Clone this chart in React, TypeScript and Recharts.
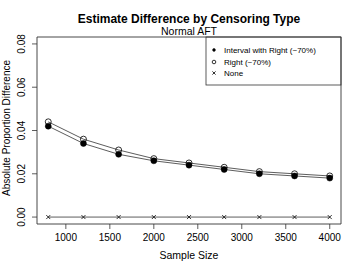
import { LineChart, Line, XAxis, YAxis, ReferenceArea, Customized } from "recharts";

const sampleSizes = [800, 1200, 1600, 2000, 2400, 2800, 3200, 3600, 4000];
const intervalRight = [0.042, 0.034, 0.029, 0.026, 0.024, 0.022, 0.020, 0.019, 0.018];
const rightOnly = [0.044, 0.036, 0.031, 0.027, 0.025, 0.023, 0.021, 0.020, 0.019];
const noneCens = [0, 0, 0, 0, 0, 0, 0, 0, 0];
const xTicks = [1000, 1500, 2000, 2500, 3000, 3500, 4000];
const yTicks = [0, 0.02, 0.04, 0.06, 0.08];
const legendLabels = ["Interval with Right (~70%)", "Right (~70%)", "None"];

const FONT = "'Liberation Sans', Arial, Helvetica, sans-serif";
const INK = "#000";
const LINE = "#333";

const data = sampleSizes.map((n, i) => ({
  n,
  interval: intervalRight[i],
  right: rightOnly[i],
  none: noneCens[i],
}));

const FilledDot = (p: any) => <circle cx={p.cx} cy={p.cy} r={p.r ?? 1.8} fill={INK} stroke={INK} strokeWidth={0.5} />;
const OpenDot = (p: any) => <circle cx={p.cx} cy={p.cy} r={p.r ?? 2.3} fill="none" stroke={INK} strokeWidth={0.8} />;
const CrossDot = (p: any) => {
  const s = p.s ?? 2;
  return (
    <g stroke={INK} strokeWidth={0.8}>
      <line x1={p.cx - s} y1={p.cy - s} x2={p.cx + s} y2={p.cy + s} />
      <line x1={p.cx - s} y1={p.cy + s} x2={p.cx + s} y2={p.cy - s} />
    </g>
  );
};

const YTick = (p: any) => (
  <text x={p.x - 5} y={p.y} transform={`rotate(-90 ${p.x - 5} ${p.y})`} textAnchor="middle" fontSize={10} fontFamily={FONT} fill={INK}>
    {p.payload.value.toFixed(2)}
  </text>
);

const XTick = (p: any) => (
  <text x={p.x} y={p.y + 10} textAnchor="middle" fontSize={10} fontFamily={FONT} fill={INK}>
    {p.payload.value}
  </text>
);

const Extras = () => (
  <g fontFamily={FONT} fill={INK}>
    <text x={189} y={23} textAnchor="middle" fontSize={12} fontWeight="bold">Estimate Difference by Censoring Type</text>
    <text x={189} y={35} textAnchor="middle" fontSize={10.5}>Normal AFT</text>
    <text x={189} y={259} textAnchor="middle" fontSize={10.5}>Sample Size</text>
    <text x={10} y={128} transform="rotate(-90 10 128)" textAnchor="middle" fontSize={10}>Absolute Proportion Difference</text>
    <rect x={206} y={37} width={135} height={48} fill="#fff" stroke={LINE} strokeWidth={0.8} />
    <FilledDot cx={214} cy={50} r={1.4} />
    <OpenDot cx={214} cy={62} r={1.8} />
    <CrossDot cx={214} cy={73} s={1.6} />
    {legendLabels.map((l, i) => (
      <text key={l} x={224} y={53 + i * 11.5} fontSize={8}>{l}</text>
    ))}
  </g>
);

export default function App() {
  return (
    <div style={{ position: "absolute", left: 0, top: 0, background: "#fff" }}>
      <LineChart width={360} height={270} data={data} margin={{ top: 37, right: 19, bottom: 0, left: 0 }}>
        <XAxis
          dataKey="n"
          type="number"
          domain={[672, 4128]}
          ticks={xTicks}
          axisLine={false}
          tickSize={5}
          tickLine={{ stroke: LINE, strokeWidth: 0.8 }}
          tick={<XTick />}
          height={46}
          allowDataOverflow
        />
        <YAxis
          type="number"
          domain={[-0.0032, 0.0832]}
          ticks={yTicks}
          axisLine={false}
          tickSize={5}
          tickLine={{ stroke: LINE, strokeWidth: 0.8 }}
          tick={<YTick />}
          width={37}
          allowDataOverflow
        />
        <ReferenceArea x1={672} x2={4128} y1={-0.0032} y2={0.0832} fill="none" stroke={LINE} strokeWidth={0.9} ifOverflow="visible" />
        <Line dataKey="interval" stroke={LINE} strokeWidth={0.8} dot={<FilledDot />} activeDot={false} isAnimationActive={false} />
        <Line dataKey="right" stroke={LINE} strokeWidth={0.8} dot={<OpenDot />} activeDot={false} isAnimationActive={false} />
        <Line dataKey="none" stroke={LINE} strokeWidth={0.8} dot={<CrossDot />} activeDot={false} isAnimationActive={false} />
        <Customized component={Extras} />
      </LineChart>
    </div>
  );
}
